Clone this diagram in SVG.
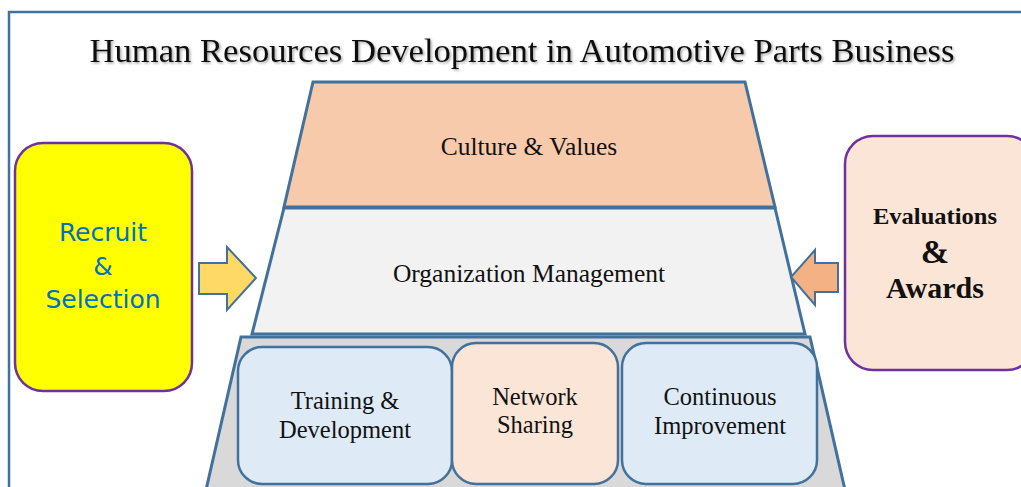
<svg xmlns="http://www.w3.org/2000/svg" width="1021" height="487" viewBox="0 0 1021 487">
<defs>
<filter id="sh" x="-5%" y="-20%" width="110%" height="140%"><feDropShadow dx="1.5" dy="1.5" stdDeviation="1" flood-color="#000" flood-opacity="0.35"/></filter>
</defs>
<style>
.serif{font-family:"Liberation Serif","Times New Roman",serif;fill:#111}
.layer{stroke:#41719c;stroke-width:3;stroke-linejoin:miter}
.box{stroke:#41719c;stroke-width:2.5}
.side{stroke:#7030a0;stroke-width:2.5}
.arrow{stroke:#41719c;stroke-width:2}
</style>
<rect width="1021" height="487" fill="#fff"/>
<rect id="frame" x="9" y="12" width="1030" height="500" fill="none" stroke="#41719c" stroke-width="2.5"/>
<text x="522" y="62" text-anchor="middle" class="serif" font-size="33" textLength="865" lengthAdjust="spacingAndGlyphs" filter="url(#sh)">Human Resources Development in Automotive Parts Business</text>

<g id="base-layer">
<polygon class="layer" points="241,337 810,337 845,490 206,490" fill="#d9d9d9"/>
</g>
<g id="org-management">
<polygon class="layer" points="284,208 775,208 805,334 252,334" fill="#f2f2f2"/>
<text x="529" y="282" text-anchor="middle" class="serif" font-size="25.5">Organization Management</text>
</g>
<g id="culture-values">
<polygon class="layer" points="313,82 745,82 775,207 284,207" fill="#f7caac"/>
<text x="529" y="155" text-anchor="middle" class="serif" font-size="25.5">Culture &amp; Values</text>
</g>

<g id="training">
<rect class="box" x="238" y="347" width="214" height="137" rx="24" fill="#deebf7"/>
<text x="345" y="409" text-anchor="middle" class="serif" font-size="24.5">Training &amp;</text>
<text x="345" y="438" text-anchor="middle" class="serif" font-size="24.5">Development</text>
</g>
<g id="network">
<rect class="box" x="452" y="343" width="166" height="141" rx="24" fill="#fbe5d6"/>
<text x="535" y="405" text-anchor="middle" class="serif" font-size="24.5">Network</text>
<text x="535" y="433" text-anchor="middle" class="serif" font-size="24.5">Sharing</text>
</g>
<g id="continuous">
<rect class="box" x="622" y="343" width="195" height="141" rx="24" fill="#deebf7"/>
<text x="720" y="405" text-anchor="middle" class="serif" font-size="24.5">Continuous</text>
<text x="720" y="434" text-anchor="middle" class="serif" font-size="24.5">Improvement</text>
</g>

<g id="recruit">
<rect class="side" x="15" y="143" width="177" height="248" rx="28" fill="#ffff00"/>
<g font-family="'DejaVu Sans',Verdana,sans-serif" font-size="25" fill="#0070c0" text-anchor="middle">
<text x="103" y="241">Recruit</text>
<text x="103" y="275">&amp;</text>
<text x="103" y="308">Selection</text>
</g>
</g>
<g id="evaluations">
<rect class="side" x="845" y="136" width="190" height="234" rx="28" fill="#fbe5d6"/>
<g class="serif" font-weight="bold" text-anchor="middle">
<text x="935" y="224" font-size="24" textLength="124" lengthAdjust="spacingAndGlyphs">Evaluations</text>
<text x="935" y="263" font-size="34">&amp;</text>
<text x="935" y="298" font-size="30">Awards</text>
</g>
</g>

<g id="connectors">
<polygon class="arrow" points="199,263 227,263 227,247 256,278 227,310 227,294 199,294" fill="#ffd966"/>
<polygon class="arrow" points="838,263 815,263 815,250 791,277 815,305 815,292 838,292" fill="#f4b183"/>
</g>
</svg>
